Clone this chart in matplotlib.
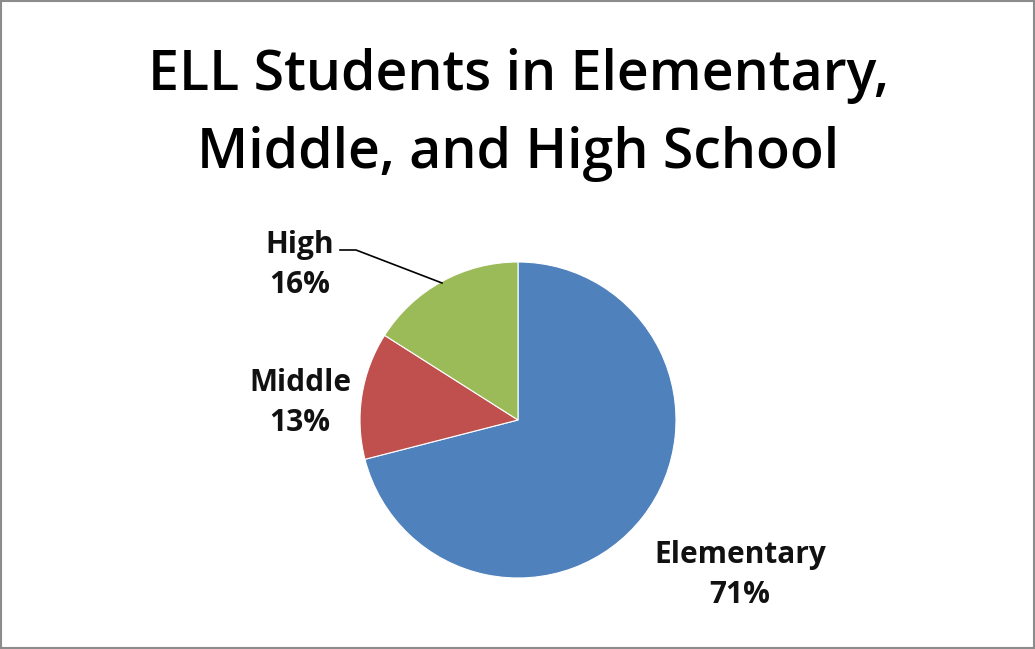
import matplotlib.pyplot as plt
from matplotlib.patches import Rectangle

# ELL enrollment share by school level
levels = ['Elementary', 'Middle', 'High']
shares = [71, 13, 16]
colors = ['#4F81BD', '#C0504D', '#9BBB59']

W, H = 1035, 649
fig = plt.figure(figsize=(W / 100, H / 100), dpi=100)
ax = fig.add_axes([0, 0, 1, 1])

font = ['Open Sans', 'DejaVu Sans']

ax.pie(shares, colors=colors, startangle=90, counterclock=False,
       center=(518, 229), radius=158,
       wedgeprops=dict(edgecolor='white', linewidth=0.8))

# pie() resets the limits, so fix the pixel-like frame afterwards
ax.set_xlim(0, W)
ax.set_ylim(0, H)
ax.set_aspect('equal')
ax.axis('off')

# data labels
lab_pos = {'Elementary': (740, 74), 'Middle': (300, 246), 'High': (300, 384)}
for name, val in zip(levels, shares):
    x, y = lab_pos[name]
    ax.text(x, y, f'{name}\n{val}%', ha='center', va='center',
            fontsize=21.5, fontweight='bold', family=font,
            linespacing=1.4, color='#111111')

# leader line for the High label
ax.plot([340, 356, 442], [399, 399, 366], color='black', lw=1.2)

ax.text(518, 534, 'ELL Students in Elementary,\nMiddle, and High School',
        ha='center', va='center', fontsize=40, fontweight='semibold',
        family=font, linespacing=1.5)

ax.add_patch(Rectangle((1, 1), W - 2, H - 2, fill=False, edgecolor='#8c8c8c', lw=1.5))

fig.savefig('out.png', dpi=100)
